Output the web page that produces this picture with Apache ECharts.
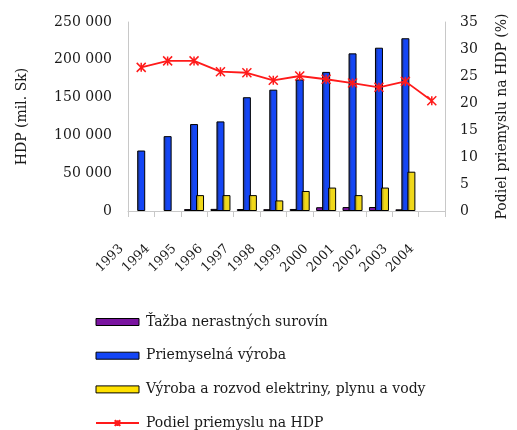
<!DOCTYPE html>
<html>
<head>
<meta charset="utf-8">
<script src="https://cdn.jsdelivr.net/npm/echarts@6/dist/echarts.min.js"></script>
<style>
html,body{margin:0;padding:0;background:#fff;}
#chart{width:517px;height:430px;}
</style>
</head>
<body>
<div id="chart"></div>
<script>
var categories = ['1993','1994','1995','1996','1997','1998','1999','2000','2001','2002','2003','2004'];
var tazba = [null, null, 2500, 2800, 2600, 2400, 2700, 5000, 5200, 5300, 2200];
var priemysel = [80000, 99000, 115000, 118500, 150500, 160500, 174000, 184000, 208500, 216000, 228500];
var energia = [null, null, 21000, 21000, 21000, 14000, 26500, 31000, 21000, 31000, 52000];
var podiel = [26.6, 27.8, 27.8, 25.8, 25.6, 24.2, 25.0, 24.4, 23.7, 22.9, 24.0, 20.4];
var leftTicks = {min: 0, max: 250000, interval: 50000};
var rightTicks = {min: 0, max: 35, interval: 5};

var FONT = 'DejaVu Serif';
var TXT = '#1a1a1a';
function fmt(v){ return String(v).replace(/\B(?=(\d{3})+(?!\d))/g, ' '); }
function hgrad(a, b){
  return new echarts.graphic.LinearGradient(0, 0, 1, 0, [
    {offset: 0, color: a}, {offset: 0.4, color: b}, {offset: 1, color: b}
  ]);
}

var chart = echarts.init(document.getElementById('chart'));
chart.setOption({
  animation: false,
  backgroundColor: '#fff',
  textStyle: {fontFamily: FONT},
  grid: {left: 128, right: 67, top: 22, bottom: 219, containLabel: false},
  legend: {
    orient: 'vertical', left: 90, top: 310, height: 160,
    itemWidth: 43, itemHeight: 7, itemGap: 19.7,
    textStyle: {fontFamily: FONT, fontSize: 14, color: TXT, padding: [0, 0, 0, 2]},
    data: [
      {name: 'Ťažba nerastných surovín', icon: 'rect', itemStyle: {color: '#7a14a0', borderColor: '#000', borderWidth: 1}},
      {name: 'Priemyselná výroba', icon: 'rect', itemStyle: {color: '#1446f5', borderColor: '#000', borderWidth: 1}},
      {name: 'Výroba a rozvod elektriny, plynu a vody', icon: 'rect', itemStyle: {color: '#ffe100', borderColor: '#000', borderWidth: 1}},
      {name: 'Podiel priemyslu na HDP'}
    ]
  },
  xAxis: {
    type: 'category', data: categories,
    axisLine: {show: true, lineStyle: {color: '#c8c8c8', width: 1}},
    axisTick: {show: true, length: 6, lineStyle: {color: '#c8c8c8'}},
    axisLabel: {rotate: 45, margin: 16, padding: [0, 28, 0, 0], interval: 0,
      fontFamily: FONT, fontSize: 13, color: TXT}
  },
  yAxis: [
    {
      type: 'value', position: 'left', min: leftTicks.min, max: leftTicks.max, interval: leftTicks.interval,
      name: 'HDP (mil. Sk)', nameLocation: 'middle', nameRotate: 90, nameGap: 99,
      nameTextStyle: {fontFamily: FONT, fontSize: 14, color: TXT},
      axisLine: {show: true, lineStyle: {color: '#c8c8c8'}},
      axisTick: {show: false}, splitLine: {show: false},
      axisLabel: {margin: 16, fontFamily: FONT, fontSize: 14, color: TXT, formatter: fmt}
    },
    {
      type: 'value', position: 'right', min: rightTicks.min, max: rightTicks.max, interval: rightTicks.interval,
      name: 'Podiel priemyslu na HDP (%)', nameLocation: 'middle', nameRotate: 90, nameGap: 50,
      nameTextStyle: {fontFamily: FONT, fontSize: 14, color: TXT},
      axisLine: {show: true, lineStyle: {color: '#c8c8c8'}},
      axisTick: {show: false}, splitLine: {show: false},
      axisLabel: {margin: 15, fontFamily: FONT, fontSize: 14, color: TXT}
    }
  ],
  series: [
    {
      name: 'Ťažba nerastných surovín', type: 'bar', data: tazba, barWidth: 8, barGap: '-25%',
      itemStyle: {color: '#7a14a0', borderColor: '#000', borderWidth: 1}
    },
    {
      name: 'Priemyselná výroba', type: 'bar', data: priemysel, barWidth: 8, barGap: '-25%',
      itemStyle: {color: hgrad('#23306e', '#1446f5'), borderColor: '#000', borderWidth: 1}
    },
    {
      name: 'Výroba a rozvod elektriny, plynu a vody', type: 'bar', data: energia, barWidth: 8, barGap: '-25%',
      itemStyle: {color: hgrad('#7d7020', '#f0d81a'), borderColor: '#000', borderWidth: 1}
    },
    {
      name: 'Podiel priemyslu na HDP', type: 'line', yAxisIndex: 1, data: podiel,
      symbol: 'path://M0,0L10,10M10,0L0,10M5,0L5,10', symbolSize: 9,
      lineStyle: {color: '#ff1a1a', width: 1.8},
      itemStyle: {color: '#ff1a1a', borderColor: '#ff1a1a', borderWidth: 1.5}
    }
  ]
});
</script>
</body>
</html>
